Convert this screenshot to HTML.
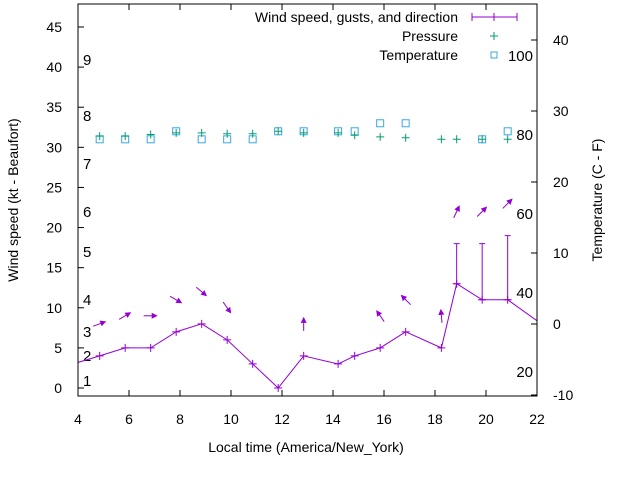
<!DOCTYPE html>
<html><head><meta charset="utf-8"><style>
body{margin:0;background:#fff}
svg{display:block;font-family:"Liberation Sans",sans-serif}
</style></head><body>
<svg id="c" width="640" height="480"></svg>
<script>
const hours=[3.7,4.85,5.85,6.85,7.85,8.85,9.85,10.85,11.85,12.85,14.2,14.85,15.85,16.85,18.25,18.85,19.85,20.85,22.3];
const windKt=[2.9,4,5,5,7,8,6,3,0,4,3,4,5,7,5,13,11,11,7.7];
const gustHours=[18.85,19.85,20.85];
const gustKt=[18,18,19];
const gustBase=[13,11,11];
const arrowHours=[4.85,5.85,6.85,7.85,8.85,9.85,12.85,15.85,16.85,18.25,18.85,19.85,20.85];
const arrowKt=[8,9,9,11,12,10,8,9,11,9,22,22,23];
const arrowDeg=[20,30,0,-30,-40,-55,90,125,135,95,65,45,45];
const presHours=[4.85,5.85,6.85,7.85,8.85,9.85,10.85,11.85,12.85,14.2,14.85,15.85,16.85,18.25,18.85,19.85,20.85];
const presVal=[31.4,31.4,31.6,31.8,31.8,31.7,31.7,32,31.8,31.8,31.5,31.3,31.2,31,31,31,31];
const tempHours=[4.85,5.85,6.85,7.85,8.85,9.85,10.85,11.85,12.85,14.2,14.85,15.85,16.85,19.85,20.85];
const tempVal=[31,31,31,32,31,31,31,32,32,32,32,33,33,31,32];
const xTicks=[4,6,8,10,12,14,16,18,20,22];
const yTicks=[0,5,10,15,20,25,30,35,40,45];
const y2Ticks=[-10,0,10,20,30,40];
const beaufort=[[1,380],[2,355],[3,331],[4,299],[5,251],[6,211],[7,163],[8,115],[9,59]];
const fLabels=[[20,371],[40,292],[60,213],[80,134],[100,55]];

const L=78,R=537,T=4,B=396;
const X=h=>L+(h-4)*(R-L)/18;
const Y=v=>388-v*(388-27)/45;
const Y2=v=>324-v*7.1;
const svg=document.getElementById('c');
const NS='http://www.w3.org/2000/svg';
function mk(tag,at,parent){const e=document.createElementNS(NS,tag);for(const k in at)e.setAttribute(k,at[k]);(parent||svg).appendChild(e);return e;}
function txt(s,x,y,anchor,size,extra){const e=mk('text',Object.assign({x:x,y:y,'text-anchor':anchor,'font-size':size||14,fill:'#000'},extra||{}));e.textContent=s;return e;}

const clip=mk('clipPath',{id:'pc'});mk('rect',{x:L,y:T,width:R-L,height:B-T},clip);

xTicks.forEach(t=>{const x=X(t);
 const l=mk('line',{x1:x,y1:B,x2:x,y2:B-6,stroke:'#000'});
 
 mk('line',{x1:x,y1:T,x2:x,y2:T+6,stroke:'#000'});
 const s=txt(String(t),x,424,'middle');
 });
yTicks.forEach(t=>{const y=Y(t);
 mk('line',{x1:L,y1:y,x2:L+6,y2:y,stroke:'#000'});
 const s=txt(String(t),62,y+5,'end');
 });
y2Ticks.forEach(t=>{const y=Y2(t);
 mk('line',{x1:R,y1:y,x2:R-6,y2:y,stroke:'#000'});
 const s=txt(String(t),553,y+5,'start');
 });
beaufort.forEach(b=>{const s=txt(String(b[0]),83,b[1]+6,'start',15);
 });
fLabels.forEach(b=>{const s=txt(String(b[0]),533,b[1]+6,'end',15);
 });

const g=mk('g',{'clip-path':'url(#pc)'});
tempHours.forEach((h,i)=>{const r=mk('rect',{x:X(h)-3.5,y:Y(tempVal[i])-3.5,width:7,height:7,fill:'none',stroke:'#3aa8e0','stroke-width':1},g);
 });
presHours.forEach((h,i)=>{const x=X(h),y=Y(presVal[i]);
 const p=mk('path',{d:`M${x-4},${y}H${x+4}M${x},${y-4}V${y+4}`,stroke:'#009e73','stroke-width':1},g);
 });
const wl=mk('polyline',{points:hours.map((h,i)=>X(h)+','+Y(windKt[i])).join(' '),fill:'none',stroke:'#9400d3','stroke-width':1},g);

hours.forEach((h,i)=>{const x=X(h),y=Y(windKt[i]);
 const p=mk('path',{d:`M${x-4},${y}H${x+4}M${x},${y-4}V${y+4}`,stroke:'#9400d3','stroke-width':1},g);
 });
gustHours.forEach((h,i)=>{const x=X(h),y1=Y(gustBase[i]),y2=Y(gustKt[i]);
 const p=mk('path',{d:`M${x},${y1}V${y2}M${x-3},${y2}H${x+3}M${x-3},${y1}H${x+3}`,stroke:'#9400d3','stroke-width':1},g);
 });
arrowHours.forEach((h,i)=>{const cx=X(h),cy=Y(arrowKt[i]),a=arrowDeg[i]*Math.PI/180,len=14;
 const dx=Math.cos(a),dy=-Math.sin(a);
 const x1=cx-dx*len/2,y1=cy-dy*len/2,x2=cx+dx*len/2,y2=cy+dy*len/2;
 const px=-dy,py=dx;
 const gg=mk('g',{},g);
 
 mk('line',{x1:x1,y1:y1,x2:x2-dx*4,y2:y2-dy*4,stroke:'#9400d3','stroke-width':1},gg);
 mk('polygon',{points:`${x2},${y2} ${x2-dx*6+px*3},${y2-dy*6+py*3} ${x2-dx*6-px*3},${y2-dy*6-py*3}`,fill:'#9400d3'},gg);});

const fr=mk('rect',{x:L,y:T,width:R-L,height:B-T,fill:'none',stroke:'#000','stroke-width':1});


const lg=mk('g',{});
txt('Wind speed, gusts, and direction',458,22,'end',14);
mk('path',{d:'M472,17H517M472,13V21M517,13V21M494,13V21',stroke:'#9400d3','stroke-width':1});
txt('Pressure',458,41,'end',14);
mk('path',{d:'M490,36H498M494,32V40',stroke:'#009e73','stroke-width':1});
txt('Temperature',458,60,'end',14);
mk('rect',{x:491,y:52,width:6,height:6,fill:'none',stroke:'#3aa8e0'});

const xt=txt('Local time (America/New_York)',306,452,'middle',14);
const yt=txt('Wind speed (kt - Beaufort)',18,200,'middle',14,{transform:'rotate(-90 18 200)'});
const y2t=txt('Temperature (C - F)',602,200,'middle',14,{transform:'rotate(-90 602 200)'});
</script>
</body></html>
